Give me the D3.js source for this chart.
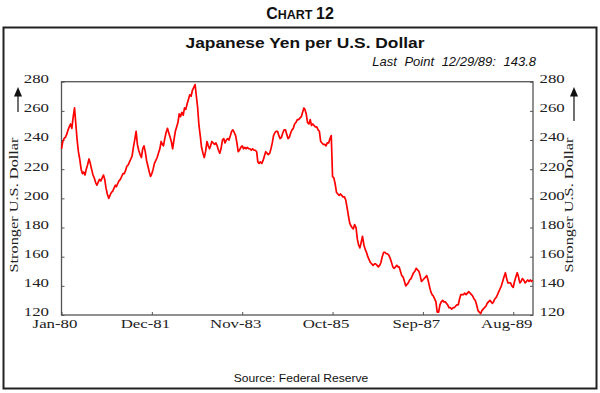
<!DOCTYPE html>
<html>
<head>
<meta charset="utf-8">
<script src="https://cdn.jsdelivr.net/npm/d3@7"></script>
<style>
  body { margin: 0; background: #fff; }
  svg { display: block; }
</style>
</head>
<body>
<div id="chart"></div>
<script>
// yen per dollar: 1st, 11th and 21st of each month
var yen1980 = [234,239,241, 242,244,247, 249,251,248, 256,262,251, 240,232,227, 220,217,218,
               216,220,223, 227,224,220, 216,214,211, 209,211,213, 212,214,216, 213,207,203];
var yen1981 = [200,202,204, 205,207,209, 208,210,212, 213,215,217, 217,219,222, 223,225,227,
               229,235,240, 246,237,233, 230,228,234, 236,232,226, 222,218,215, 217,220,224];
var yen1982 = [226,228,231, 234,239,237, 236,241,245, 248,245,242, 239,234,240, 246,249,252,
               258,256,259, 257,262,261, 265,268,271, 270,274,276, 278,270,262, 250,243,235];
var yen1983 = [231,228,232, 239,236,234, 236,239,238, 237,238,236, 233,231,234, 240,241,238,
               240,241,240, 243,246,247, 245,243,238, 232,233,235, 236,234,235, 234,235,234];
var yen1984 = [234,233,234, 233,233,232, 225,224,225, 224,226,229, 232,231,230, 231,234,238,
               243,245,246, 246,243,241, 242,245,247, 247,244,241, 242,245,247, 248,251,252];
var yen1985 = [254,254,255, 256,259,262, 261,258,252, 251,254,250, 251,250,249, 249,247,246,
               239,238,237, 237,236,238, 238,241,243, 215,214,210, 204,203,202, 203,202,201];
var yen1986 = [201,199,194, 188,183,181, 180,179,182, 180,172,168, 166,170,174, 168,165,163,
               160,158,156, 155,154,155, 155,154,153, 154,156,160, 163,163,162, 162,161,159];
var yen1987 = [156,153,152, 153,154,153, 153,150,147, 146,143,140, 141,142,144, 145,147,149,
               150,152,151, 150,147,143, 144,145,146, 147,144,140, 136,134,133, 131,129,122];
var yen1988 = [122,127,129, 130,129,129, 128,127,125, 125,124,125, 125,126,127, 127,131,134,
               134,134,135, 134,135,136, 135,134,133, 131,130,127, 123,122,121, 123,124,125];
var yen1989 = [126,128,129, 130,129,128, 129,131,132, 134,136,138, 140,143,146, 149,145,142,
               142,142,140, 139,143,146, 149,146,142, 143,145,144, 142,143,144, 143,144,143];
var years = [1980,1981,1982,1983,1984,1985,1986,1987,1988,1989];
var yenByYear = [yen1980,yen1981,yen1982,yen1983,yen1984,yen1985,yen1986,yen1987,yen1988,yen1989];
var lastDate = "1989-12-29", lastValue = 143.8;

var yTicks = [120,140,160,180,200,220,240,260,280];
var xTickDates = ["1980-01-01","1981-12-01","1983-11-01","1985-10-01","1987-09-01","1989-08-01"];
var xTickLabels = ["Jan-80","Dec-81","Nov-83","Oct-85","Sep-87","Aug-89"];

function main(){
  var W = 600, H = 393;
  var left = 61.5, right = 533, top = 81.7, bottom = 315;
  var parse = d3.timeParse("%Y-%m-%d");
  var serif = "'Liberation Serif','Times New Roman',serif";
  var sans = "'Liberation Sans',Arial,sans-serif";

  // build the rows from the yearly lists
  var data = [];
  years.forEach(function(yr, j){
    yenByYear[j].forEach(function(v, i){
      data.push({date: new Date(yr, Math.floor(i / 3), 1 + (i % 3) * 10), value: v});
    });
  });
  data.push({date: parse(lastDate), value: lastValue});

  // the fonts in the picture are drawn wider than normal
  function stretch(sel, k){
    sel.each(function(){
      var w = this.getComputedTextLength();
      d3.select(this).attr("textLength", w * k).attr("lengthAdjust", "spacingAndGlyphs");
    });
  }

  var svg = d3.select("#chart").append("svg")
    .attr("width", W).attr("height", H);
  svg.append("rect").attr("width", W).attr("height", H).attr("fill", "#fff");

  // chart number above the frame
  var cap = svg.append("text")
    .attr("x", 300).attr("y", 19)
    .attr("text-anchor", "middle")
    .attr("font-family", sans).attr("font-weight", "bold")
    .attr("fill", "#111");
  cap.append("tspan").attr("font-size", "16px").text("C");
  cap.append("tspan").attr("font-size", "12.5px").text("HART ");
  cap.append("tspan").attr("font-size", "16px").text("12");

  // outer frame
  svg.append("rect")
    .attr("x", 3.5).attr("y", 27.5)
    .attr("width", 593).attr("height", 361)
    .attr("fill", "none").attr("stroke", "#222").attr("stroke-width", 2);

  svg.append("text")
    .attr("x", 305).attr("y", 48)
    .attr("text-anchor", "middle")
    .attr("font-family", sans).attr("font-weight", "bold").attr("font-size", "15.5px")
    .attr("fill", "#111")
    .text("Japanese Yen per U.S. Dollar")
    .call(stretch, 1.12);

  svg.append("text")
    .attr("x", 536).attr("y", 66)
    .attr("text-anchor", "end")
    .attr("font-family", sans).attr("font-style", "italic").attr("font-size", "13px")
    .attr("word-spacing", "4px")
    .attr("fill", "#111")
    .text("Last Point 12/29/89: 143.8");

  var x = d3.scaleTime()
    .domain([new Date(1980, 0, 1), new Date(1990, 0, 1)])
    .range([left, right]);
  var y = d3.scaleLinear()
    .domain([120, 280])
    .range([bottom, top]);

  // plot frame
  svg.append("rect")
    .attr("x", left).attr("y", top)
    .attr("width", right - left).attr("height", bottom - top)
    .attr("fill", "none").attr("stroke", "#555").attr("stroke-width", 1.3);

  var gl = svg.append("g")
    .attr("transform", "translate(" + left + ",0)")
    .call(d3.axisLeft(y).tickValues(yTicks).tickSize(-3).tickSizeOuter(0).tickPadding(12.5));
  var gr = svg.append("g")
    .attr("transform", "translate(" + right + ",0)")
    .call(d3.axisRight(y).tickValues(yTicks).tickSize(-3).tickSizeOuter(0).tickPadding(6.5));
  var gx = svg.append("g")
    .attr("transform", "translate(0," + bottom + ")")
    .call(d3.axisBottom(x).tickValues(xTickDates.map(parse)).tickSize(-3).tickSizeOuter(0).tickPadding(4.5)
      .tickFormat(function(d, i){ return xTickLabels[i]; }));

  [gl, gr, gx].forEach(function(g){
    g.select(".domain").remove();
    g.selectAll(".tick line").attr("stroke", "#555");
    g.selectAll(".tick text")
      .attr("font-family", serif).attr("font-size", "12px").attr("fill", "#222");
  });
  gl.selectAll(".tick text").attr("y", -3).call(stretch, 1.4);
  gr.selectAll(".tick text").attr("y", -3).call(stretch, 1.4);
  gx.selectAll(".tick text").attr("x", -7).call(stretch, 1.4);

  // side titles with arrows
  [{cx: 14, ax: 18, a0: 112}, {cx: 569, ax: 574, a0: 121}].forEach(function(s){
    svg.append("text")
      .attr("transform", "translate(" + s.cx + ",205) rotate(-90)")
      .attr("text-anchor", "middle").attr("dy", "0.35em")
      .attr("font-family", serif).attr("font-size", "12px").attr("fill", "#222")
      .text("Stronger U.S. Dollar")
      .call(stretch, 1.36);
    svg.append("line")
      .attr("x1", s.ax).attr("x2", s.ax).attr("y1", s.a0).attr("y2", 95)
      .attr("stroke", "#111").attr("stroke-width", 1.2);
    svg.append("path")
      .attr("d", "M" + (s.ax - 4) + ",96.5L" + s.ax + ",87L" + (s.ax + 4) + ",96.5Z")
      .attr("fill", "#111");
  });

  // the yen line
  var line = d3.line()
    .x(function(d){ return x(d.date); })
    .y(function(d){ return y(d.value); });
  svg.append("path")
    .datum(data)
    .attr("d", line)
    .attr("fill", "none")
    .attr("stroke", "#ff0000")
    .attr("stroke-width", 1.7)
    .attr("stroke-linejoin", "round");

  svg.append("text")
    .attr("x", 301).attr("y", 382)
    .attr("text-anchor", "middle")
    .attr("font-family", sans).attr("font-size", "11px").attr("fill", "#111")
    .text("Source: Federal Reserve")
    .call(stretch, 1.1);
}
main();
</script>
</body>
</html>
